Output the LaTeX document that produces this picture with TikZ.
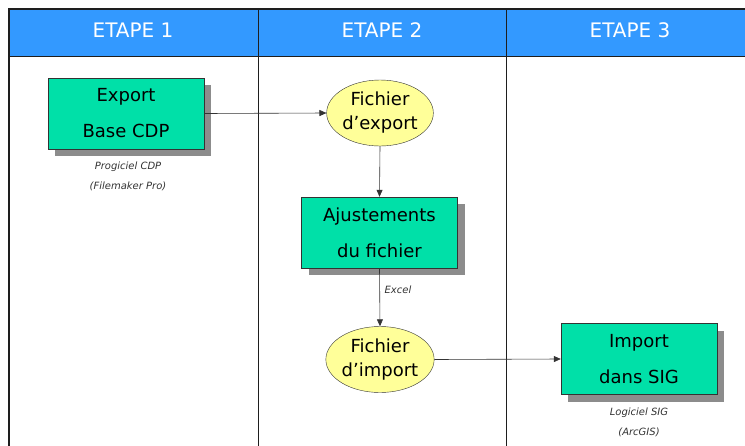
\documentclass[tikz,border=0pt]{standalone}
\usepackage{fontspec}
\setmainfont{DejaVu Sans}
\usetikzlibrary{shapes.geometric,shadows,arrows.meta}
\definecolor{hdrblue}{RGB}{51,153,255}
\definecolor{boxgreen}{RGB}{0,224,168}
\definecolor{elyellow}{RGB}{255,255,153}
\definecolor{frameline}{RGB}{30,30,30}
\tikzset{
  procbox/.style={draw=black!80, fill=boxgreen, minimum width=156pt, minimum height=71pt,
    inner sep=0pt, align=center, font=\fontsize{18}{36}\selectfont,
    drop shadow={shadow xshift=7pt, shadow yshift=-7pt, opacity=1, fill=black!45}},
  fileell/.style={ellipse, draw=black!80, fill=elyellow, minimum width=104pt, minimum height=66pt,
    inner sep=0pt, align=center, font=\fontsize{18}{24}\selectfont},
  hdr/.style={text=white, font=\fontsize{20}{24}\selectfont},
  note/.style={font=\fontsize{10}{20}\selectfont\itshape, text=black!80, align=center},
  flow/.style={draw=black!80, line width=0.6pt, -{Triangle[length=7pt,width=6pt]}}
}
\begin{document}
\begin{tikzpicture}[x=1pt,y=-1pt]
\useasboundingbox (0,0) rectangle (745,445);
\clip (0,0) rectangle (745,445);
% header
\fill[hdrblue] (9,9) rectangle (760,56);
\draw[frameline, line width=1.2pt] (9,460) -- (9,9) -- (760,9);
\draw[frameline, line width=1pt] (9,56) -- (760,56);
\draw[frameline, line width=0.8pt] (258,9) -- (258,460);
\draw[frameline, line width=0.8pt] (506,9) -- (506,460);
\node[hdr] (h1) at (133,30) {ETAPE 1};
\node[hdr] (h2) at (382,30) {ETAPE 2};
\node[hdr] (h3) at (630,30) {ETAPE 3};
% nodes
\node[procbox] (export) at (126,113.5) {Export\\Base CDP};
\node[note] (n1) at (128,176) {Progiciel CDP\\(Filemaker Pro)};
\node[fileell] (fexport) at (380,113) {Fichier\\d’export};
\node[procbox] (ajust) at (379.5,232.5) {Ajustements\\du fichier};
\node[note] (excel) at (398,290) {Excel};
\node[fileell] (fimport) at (380,359.5) {Fichier\\d’import};
\node[procbox] (sig) at (639,359) {Import\\dans SIG};
\node[note] (n3) at (639,422) {Logiciel SIG\\(ArcGIS)};
% connectors
\draw[flow] (export.east) -- (fexport.west);
\draw[flow] (fexport.south) -- (ajust.north);
\draw[flow] (ajust.south) -- (fimport.north);
\draw[flow] (fimport.east) -- (sig.west);
\end{tikzpicture}
\end{document}
